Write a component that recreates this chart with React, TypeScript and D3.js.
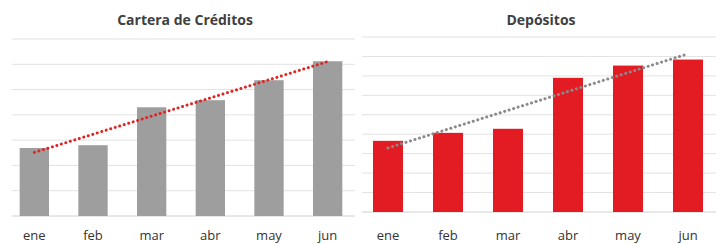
import React from 'react';
import * as d3 from 'd3';

const months = ['ene', 'feb', 'mar', 'abr', 'may', 'jun'];
const creditos = [2.69, 2.8, 4.3, 4.58, 5.37, 6.12];
const depositos = [3.66, 4.07, 4.28, 6.9, 7.53, 7.84];
const creditosTicks = [0, 1, 2, 3, 4, 5, 6, 7];
const depositosTicks = [0, 1, 2, 3, 4, 5, 6, 7, 8, 9];

type PanelProps = {
  title: string;
  values: number[];
  ticks: number[];
  x0: number;
  x1: number;
  top: number;
  bottom: number;
  gridX0: number;
  gridX1: number;
  barColor: string;
  trendColor: string;
  titleX: number;
};

// least squares line through the bars, like the spreadsheet trendline
function trend(values: number[]) {
  const xs = values.map((_, i) => i);
  const mx = d3.mean(xs) as number;
  const my = d3.mean(values) as number;
  const slope = d3.sum(xs, (x, i) => (x - mx) * (values[i] - my)) / d3.sum(xs, (x) => (x - mx) * (x - mx));
  return xs.map((x) => my + slope * (x - mx));
}

const font = "'Open Sans', Lato, sans-serif";

function Panel(p: PanelProps) {
  const x = d3.scaleBand().domain(months).range([p.x0, p.x1]).paddingInner(0.5).paddingOuter(0.25);
  const y = d3.scaleLinear().domain([0, d3.max(p.ticks) as number]).range([p.bottom, p.top]);
  const fit = trend(p.values);
  const line = d3.line<number>()
    .x((_, i) => (x(months[i]) as number) + x.bandwidth() / 2)
    .y((d) => y(d));
  return (
    <g>
      <text x={p.titleX} y={25} textAnchor="middle" fontFamily={font}
        fontWeight="bold" fontSize={14} fill="#404040">{p.title}</text>
      {p.ticks.map((t) => (
        <line key={t} x1={p.gridX0} x2={p.gridX1} y1={y(t)} y2={y(t)}
          stroke={t === 0 ? '#d0d0d0' : '#e2e2e2'} strokeWidth={1} />
      ))}
      {p.values.map((v, i) => (
        <rect key={i} x={x(months[i])} y={y(v)} width={x.bandwidth()} height={p.bottom - y(v)} fill={p.barColor} />
      ))}
      <path d={line(fit) || ''} fill="none" stroke={p.trendColor} strokeWidth={3}
        strokeDasharray="0.1 4.6" strokeLinecap="round" />
      {months.map((m) => (
        <text key={m} x={(x(m) as number) + x.bandwidth() / 2} y={240} textAnchor="middle"
          fontFamily={font} fontSize={13} fill="#333">{m}</text>
      ))}
    </g>
  );
}

export default function App() {
  return (
    <svg width={716} height={244} style={{ position: 'absolute', left: 0, top: 0, background: '#fff' }}>
      <rect width={716} height={244} fill="#fff" />
      <Panel title="Cartera de Créditos" values={creditos} ticks={creditosTicks}
        x0={5} x1={357} top={39} bottom={216} gridX0={12} gridX1={355}
        barColor="#9e9e9e" trendColor="#e02424" titleX={185} />
      <Panel title="Depósitos" values={depositos} ticks={depositosTicks}
        x0={358} x1={718} top={37} bottom={212} gridX0={362} gridX1={716}
        barColor="#e31b23" trendColor="#8a8a8a" titleX={541} />
    </svg>
  );
}
